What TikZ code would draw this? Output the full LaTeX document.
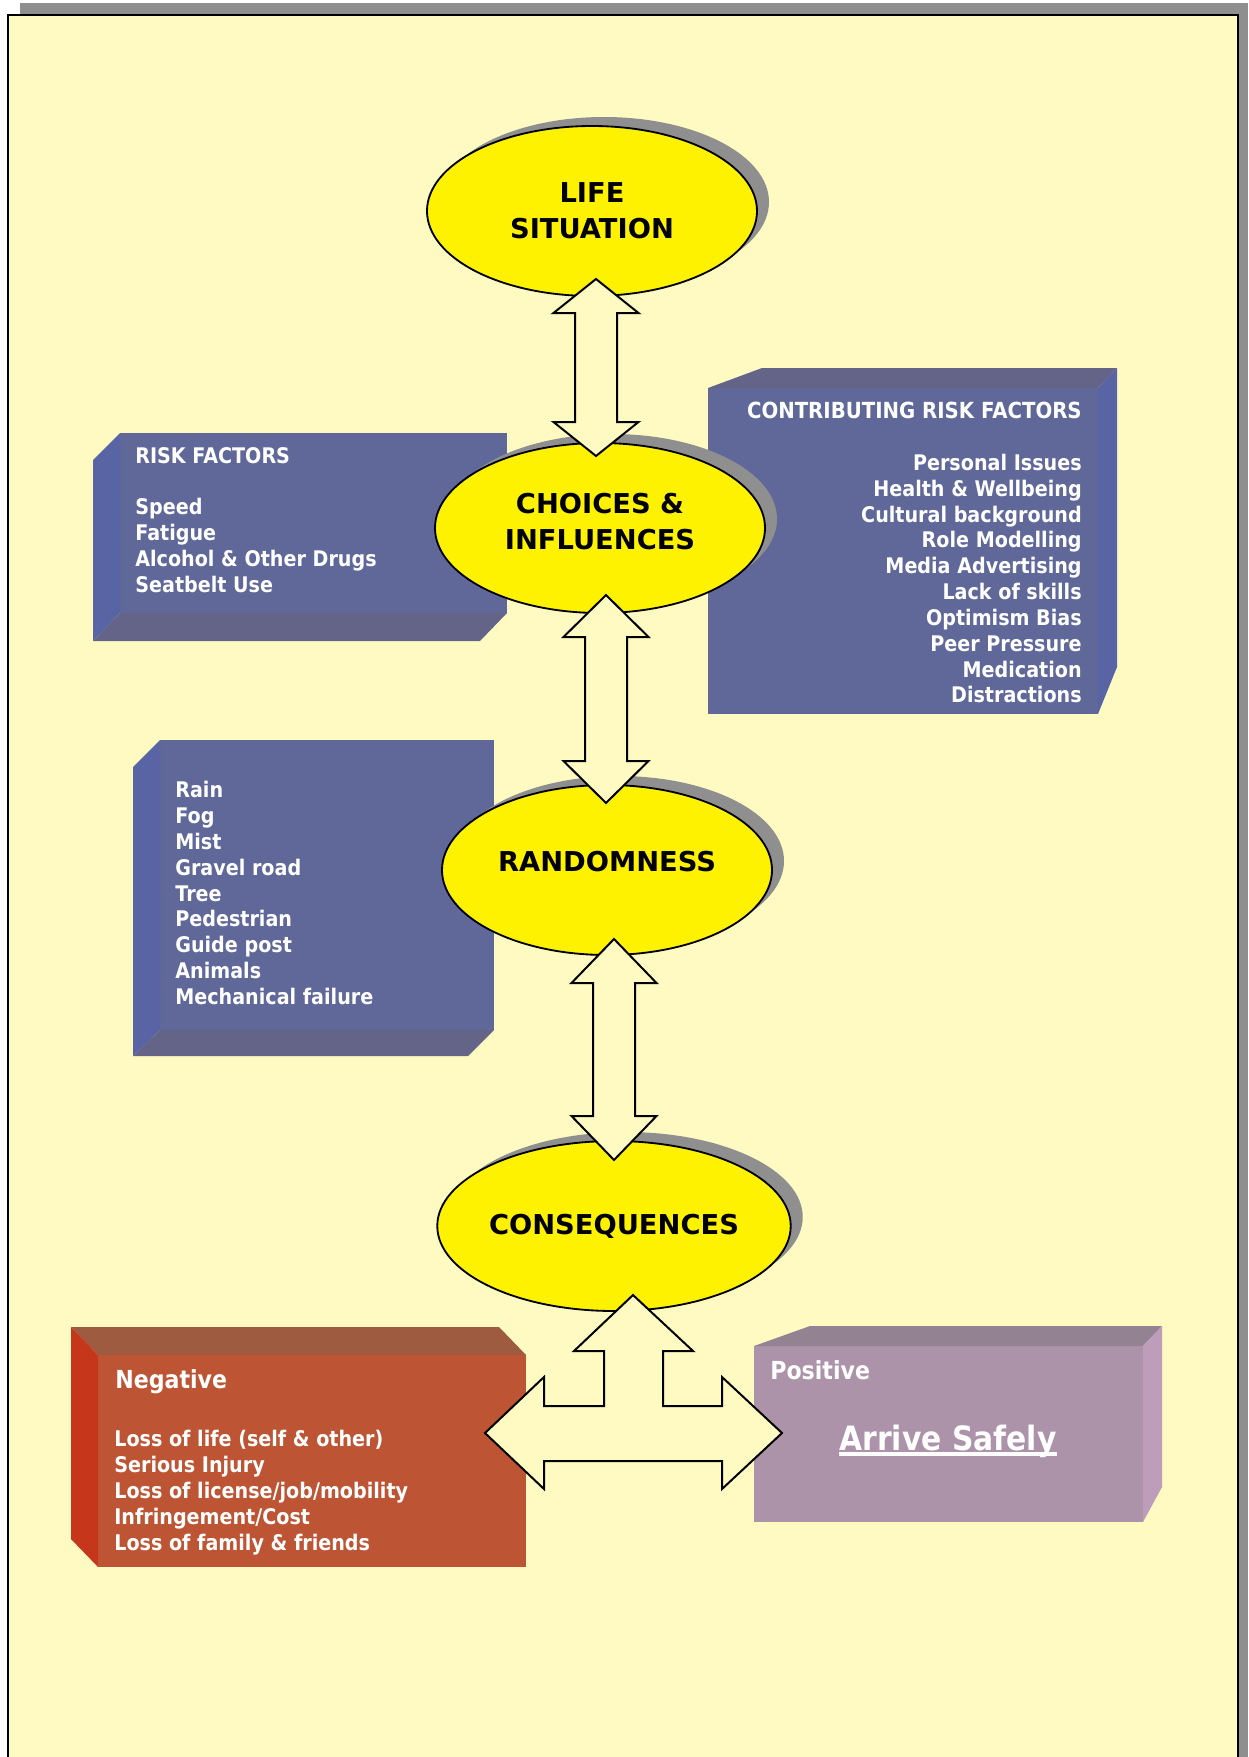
\documentclass[tikz,border=0pt]{standalone}
\usepackage{fontspec}
\setmainfont{DejaVu Sans}
\newfontfamily\narrowfont{DejaVu Sans}[FakeStretch=0.89]
\usetikzlibrary{calc,shapes.geometric,shadows}

\definecolor{paper}{HTML}{FFFAC2}
\definecolor{shadowgray}{HTML}{8F8F8F}
\definecolor{sunyellow}{HTML}{FFF200}
\definecolor{frontblue}{HTML}{5F6899}
\definecolor{sideblue}{HTML}{5864A4}
\definecolor{darkblue}{HTML}{636488}
\definecolor{frontred}{HTML}{BD5535}
\definecolor{topred}{HTML}{9E5B40}
\definecolor{sidered}{HTML}{C5361B}
\definecolor{frontmauve}{HTML}{AD93A9}
\definecolor{topmauve}{HTML}{928292}
\definecolor{sidemauve}{HTML}{BE9DBB}

% Vertical block arrow with two heads: top tip, bottom tip, head length
\newcommand{\vblockarrow}[3]{%
  \draw[block arrow] (#1) -- ($(#1)+(42.5,#3)$) -- ($(#1)+(21,#3)$)
    -- ($(#2)+(21,-#3)$) -- ($(#2)+(42.5,-#3)$) -- (#2)
    -- ($(#2)+(-42.5,-#3)$) -- ($(#2)+(-21,-#3)$)
    -- ($(#1)+(-21,#3)$) -- ($(#1)+(-42.5,#3)$) -- cycle;}
% Lift a line of text without changing its size
\newcommand{\lift}[2]{\raisebox{#1}[\height][\depth]{#2}}

\begin{document}
\begin{tikzpicture}[x = 0.6pt, y = -0.6pt]
	% Styles for the bubbles, arrows and box texts
	\tikzset{
		bubble/.style = {ellipse, draw = black, line width = 1.1pt, fill = sunyellow,
			minimum width = 198pt, minimum height = 102pt, inner sep = 0pt, align = center,
			font = \bfseries\fontsize{16.4}{21.6}\selectfont,
			drop shadow = {shadow xshift = 7.2pt, shadow yshift = 5.4pt, fill = shadowgray, opacity = 1}},
		block arrow/.style = {draw = black, line width = 1.2pt, fill = paper, line join = miter},
		box text/.style = {text = white, inner sep = 0pt, align = left,
			font = \narrowfont\bfseries\fontsize{12.9}{15.5}\selectfont},
		box title/.style = {box text, font = \narrowfont\bfseries\fontsize{14.9}{18}\selectfont}
	}

	\useasboundingbox (0, 0) rectangle (1248, 1757);
	\clip (0, 0) rectangle (1248, 1757);

	% Page frame with its shadow
	\fill[shadowgray] (20, 3) rectangle (1248, 1770);
	\draw[fill = paper, line width = 1.5pt] (8, 15) rectangle (1238, 1775);

	% Risk factors box
	\fill[frontblue] (120, 433) rectangle (507, 613);
	\fill[sideblue] (120, 433) -- (93, 460) -- (93, 641) -- (120, 613) -- cycle;
	\fill[darkblue] (120, 613) -- (93, 641) -- (480, 641) -- (507, 613) -- cycle;
	\node[box text, anchor = north west] (riskText) at (135, 447)
		{RISK FACTORS\\[15.5pt]Speed\\Fatigue\\Alcohol \& Other Drugs\\Seatbelt Use};

	% Contributing risk factors box
	\fill[frontblue] (708, 388) rectangle (1098, 714);
	\fill[darkblue] (708, 388) -- (762, 368) -- (1117, 368) -- (1098, 388) -- cycle;
	\fill[sideblue] (1098, 388) -- (1117, 368) -- (1117, 667) -- (1098, 714) -- cycle;
	\node[box text, anchor = north east, align = right] (contribText) at (1082, 402)
		{{\fontsize{13.3}{15.5}\selectfont CONTRIBUTING RISK FACTORS}\\[15.5pt]Personal Issues\\Health \& Wellbeing\\Cultural background\\Role Modelling\\Media Advertising\\Lack of skills\\Optimism Bias\\Peer Pressure\\Medication\\Distractions};

	% Randomness box
	\fill[frontblue] (160, 740) rectangle (494, 1030);
	\fill[sideblue] (160, 740) -- (133, 767) -- (133, 1056) -- (160, 1030) -- cycle;
	\fill[darkblue] (160, 1030) -- (133, 1056) -- (468, 1056) -- (494, 1030) -- cycle;
	\node[box text, anchor = north west] (weatherText) at (175, 781)
		{Rain\\Fog\\Mist\\Gravel road\\Tree\\Pedestrian\\Guide post\\Animals\\Mechanical failure};

	% Negative box
	\fill[frontred] (98, 1355) rectangle (526, 1567);
	\fill[topred] (98, 1355) -- (71, 1327) -- (499, 1327) -- (526, 1355) -- cycle;
	\fill[sidered] (98, 1355) -- (71, 1327) -- (71, 1539) -- (98, 1567) -- cycle;
	\node[box title, anchor = north west] (negTitle) at (115, 1369) {Negative};
	\node[box text, anchor = north west] (negText) at (114, 1430)
		{Loss of life (self \& other)\\Serious Injury\\Loss of license/job/mobility\\Infringement/Cost\\Loss of family \& friends};

	% Positive box
	\fill[frontmauve] (754, 1346) rectangle (1143, 1522);
	\fill[topmauve] (754, 1346) -- (810, 1326) -- (1162, 1326) -- (1143, 1346) -- cycle;
	\fill[sidemauve] (1143, 1346) -- (1162, 1326) -- (1162, 1487) -- (1143, 1522) -- cycle;
	\node[box title, anchor = north west] (posTitle) at (770, 1360) {Positive};
	\node[text = white, inner sep = 0pt, anchor = base, font = \narrowfont\bfseries\fontsize{20.1}{24}\selectfont]
		(arrive) at (948, 1450) {Arrive Safely};
	\draw[white, line width = 2.4pt] ([yshift = -2.4pt]arrive.base west) -- ([yshift = -2.4pt]arrive.base east);

	% The four bubbles
	\node[bubble] (life) at (592, 211) {LIFE\\SITUATION};
	\node[bubble] (choices) at (600, 528) {\lift{3.6pt}{CHOICES \&}\\\lift{3.6pt}{INFLUENCES}};
	\node[bubble] (random) at (607, 870) {\lift{5pt}{RANDOMNESS}};
	\node[bubble] (conseq) at (614, 1226) {CONSEQUENCES};

	% Tips of the block arrows
	\coordinate (lifeTip) at (596, 279);
	\coordinate (choicesTop) at (596, 456);
	\coordinate (choicesTip) at (606, 595);
	\coordinate (randomTop) at (606, 803);
	\coordinate (randomTip) at (614, 939);
	\coordinate (conseqTop) at (614, 1160);
	\coordinate (conseqTip) at (633, 1295);
	\coordinate (negTip) at (485, 1433);
	\coordinate (posTip) at (782, 1433);

	% Double block arrows between the bubbles
	\vblockarrow{lifeTip}{choicesTop}{34}
	\vblockarrow{choicesTip}{randomTop}{42}
	\vblockarrow{randomTip}{conseqTop}{44}

	% Three-headed arrow below the consequences
	\draw[block arrow] (conseqTip) -- ++(60, 56) -- ++(-30, 0) -- ++(0, 55) -- ++(59, 0) -- ++(0, -29)
		-- (posTip) -- ++(-60, 56) -- ++(0, -28) -- ++(-178, 0) -- ++(0, 28)
		-- (negTip) -- ++(59, -56) -- ++(0, 29) -- ++(60, 0) -- ++(0, -55) -- ++(-30, 0) -- cycle;

\end{tikzpicture}
\end{document}
